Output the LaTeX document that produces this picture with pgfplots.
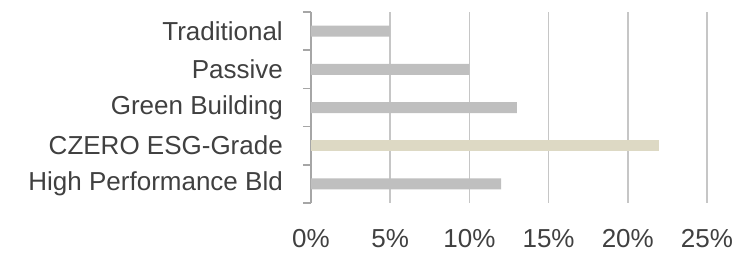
\documentclass[border=0pt]{standalone}
\usepackage{pgfplots}
\pgfplotsset{compat=1.18}
\usepackage{fontspec}
\setmainfont{Liberation Sans}
\definecolor{bargray}{HTML}{BFBFBF}
\definecolor{tanc}{HTML}{DDD9C4}
\definecolor{gridc}{HTML}{C6C6C6}
\definecolor{axisc}{HTML}{A6A6A6}
\definecolor{txt}{HTML}{404040}
\begin{document}
\begin{tikzpicture}
\begin{axis}[
  scale only axis, width=396pt, height=191pt,
  xmin=0, xmax=25, ymin=-0.5, ymax=4.5,
  xtick={0,5,...,25}, xticklabels={0\%,5\%,10\%,15\%,20\%,25\%},
  ytick={0,...,4},
  yticklabels={High Performance Bld, CZERO ESG-Grade, Green Building, Passive\ , Traditional},
  minor ytick={-0.5,0.5,...,4.5},
  major tick length=0pt, minor tick length=8pt, tick align=outside,
  xmajorgrids, major grid style={gridc, line width=1.5pt},
  separate axis lines,
  axis y line*=left, axis x line*=bottom,
  x axis line style={draw=none},
  y axis line style={axisc, line width=1.5pt},
  minor tick style={axisc, line width=1.5pt},
  yticklabel style={font=\fontsize{26}{30}\selectfont, text=txt, inner sep=0pt, xshift=-28pt},
  xticklabel style={font=\fontsize{26}{30}\selectfont, text=txt, inner sep=0pt, anchor=north, yshift=-26pt},
]
\addplot[xbar, bar shift=0pt, bar width=11pt, fill=bargray, draw=none] coordinates {(12,0) (13,2) (10,3) (5,4)};
\addplot[xbar, bar shift=0pt, bar width=11pt, fill=tanc, draw=none] coordinates {(22,1)};
\end{axis}
\path (current axis.south west) ++(-311pt,-51pt) rectangle ++(742pt,254pt);
\end{tikzpicture}
\end{document}
